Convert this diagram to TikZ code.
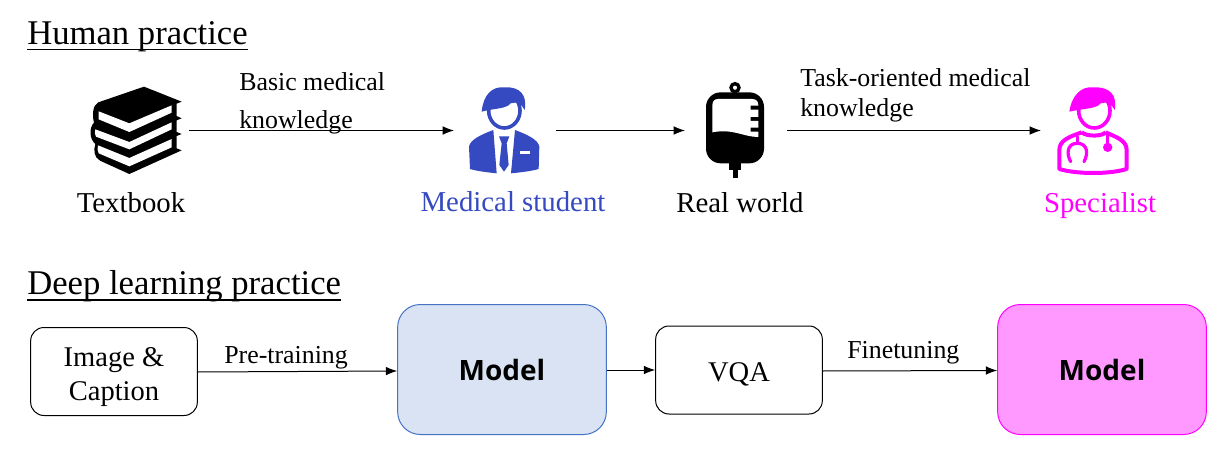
\documentclass[tikz,border=0pt]{standalone}
\usepackage{fontspec}
\setmainfont{Liberation Serif}
\newfontfamily\modelfont{Open Sans}
\usetikzlibrary{arrows.meta}
\definecolor{studentblue}{HTML}{3549C0}
\definecolor{specpink}{HTML}{FF00FF}
\definecolor{modelblue}{HTML}{DAE3F3}
\definecolor{modeledge}{HTML}{4472C4}
\definecolor{modelpink}{HTML}{FF99FF}
\newcommand\headunder[1]{\setbox0\hbox{#1}\rlap{\copy0}\rule[-4.5pt]{\wd0}{0.9pt}}
\tikzset{
  x=0.75pt,y=-0.75pt,
  heading/.style={inner sep=0pt,anchor=base west,font=\fontsize{26}{26}\selectfont},
  caption/.style={inner sep=0pt,anchor=base,font=\fontsize{21.6}{21.6}\selectfont},
  arrowlabel/.style={inner sep=0pt,anchor=base west,font=\fontsize{19.4}{19.4}\selectfont,align=left},
  flow/.style={draw=black,line width=0.75pt,-{Latex[length=8.5pt,width=6.5pt]}},
  boxtext/.style={inner sep=0pt,align=center,font=\fontsize{21.4}{25.5}\selectfont},
  whitebox/.style={draw=black,line width=0.75pt,rounded corners=10pt,fill=white,minimum width=125pt,minimum height=66pt,inner sep=0pt},
  modelbox/.style={line width=0.75pt,rounded corners=17pt,minimum width=156.5pt,minimum height=97.5pt,inner sep=0pt,font=\modelfont\bfseries\fontsize{21}{21}\selectfont}
}
\begin{document}
\begin{tikzpicture}
\useasboundingbox (0,0) rectangle (1224,456);
\fill[white] (0,0) rectangle (1224,456);
% headings
\node[heading] (h1) at (27,44.5) {\headunder{Human practice}};
\node[heading] (h2) at (27,294.5) {\headunder{Deep learning practice}};
% icon anchors
\coordinate (booksR) at (189,130.5);
\coordinate (studL) at (454,130.5);
\coordinate (studR) at (556,130.5);
\coordinate (bagL) at (685,130.5);
\coordinate (bagR) at (787,130.5);
\coordinate (specL) at (1041,130.5);
% books
\begin{scope}[shift={(70,70)},x=0.25pt,y=-0.25pt]
\fill[black] (222,50) -- (335,95) -- (320,101) -- (320,138) -- (335,145) -- (320,151) -- (320,186) -- (335,192) -- (320,198) -- (320,235) -- (335,241) -- (178,312) -- (90,272) .. controls (72,262) and (70,240) .. (76,222) .. controls (60,210) and (55,175) .. (72,158) .. controls (66,135) and (68,105) .. (85,97) -- cycle;
\fill[white] (86,124) -- (178,160) -- (305,106) -- (305,128) -- (178,186) -- (86,148) -- cycle;
\fill[white] (76,178) -- (178,216) -- (305,157) -- (305,178) -- (178,238) -- (78,200) .. controls (74,194) and (74,186) .. (76,178) -- cycle;
\fill[white] (84,226) -- (178,264) -- (305,207) -- (305,232) -- (178,289) -- (86,250) .. controls (82,244) and (82,234) .. (84,226) -- cycle;
\end{scope}
% student
\begin{scope}[shift={(450,75)},x=0.25pt,y=-0.25pt]
\fill[studentblue] (57,215) .. controls (60,195) and (90,180) .. (130,165) -- (140,295) .. controls (110,292) and (80,288) .. (60,282) -- cycle;
\fill[studentblue] (268,215) .. controls (265,195) and (235,180) .. (195,165) -- (183,295) .. controls (215,292) and (245,288) .. (266,282) -- cycle;
\fill[white] (211,229) rectangle (241,236);
\fill[studentblue] (147,184) -- (178,184) -- (170,205) -- (176,270) -- (162,290) -- (148,270) -- (155,205) -- cycle;
\draw[studentblue,line width=2.7pt] (163,107) ellipse (47 and 52);
\fill[studentblue] (95,110) .. controls (100,60) and (125,33) .. (165,37) .. controls (210,35) and (232,60) .. (224,105) .. controls (216,88) and (200,78) .. (182,85) .. controls (170,102) and (130,100) .. (95,110) -- cycle;
\end{scope}
% IV bag
\begin{scope}[shift={(690,75)},x=0.25pt,y=-0.25pt]
\draw[black,line width=2.5pt] (135,38) circle (12);
\fill[black,rounded corners=11pt] (48,52) rectangle (222,265);
\fill[black] (118,260) rectangle (153,285);
\fill[black] (128,280) rectangle (143,308);
\fill[white] (84,72) -- (186,72) .. controls (200,72) and (205,80) .. (205,92) -- (182,92) -- (182,104) -- (205,104) -- (205,126) -- (182,126) -- (182,138) -- (205,138) -- (205,158) -- (182,158) -- (182,170) -- (205,170) -- (205,186) .. controls (160,186) and (130,160) .. (67,172) -- (67,92) .. controls (67,80) and (72,72) .. (84,72) -- cycle;
\end{scope}
% specialist
\begin{scope}[shift={(1040,75)},x=0.25pt,y=-0.25pt]
\draw[specpink,line width=3pt,line join=round] (125,172) .. controls (90,185) and (58,195) .. (58,225) -- (58,282) .. controls (110,298) and (210,298) .. (260,282) -- (260,225) .. controls (260,195) and (225,185) .. (197,172);
\draw[specpink,line width=3pt] (125,172) .. controls (140,185) and (185,185) .. (197,172);
\draw[specpink,line width=2.7pt] (163,107) ellipse (47 and 52);
\fill[specpink] (88,110) .. controls (95,60) and (125,33) .. (160,37) .. controls (210,35) and (232,60) .. (224,105) .. controls (216,88) and (200,78) .. (182,85) .. controls (170,102) and (130,100) .. (88,110) -- cycle;
\draw[specpink,line width=2.4pt,line cap=round] (112,185) -- (112,205);
\draw[specpink,line width=2.4pt,line cap=round] (92,260) .. controls (78,235) and (82,205) .. (112,205) .. controls (142,205) and (146,235) .. (132,260);
\draw[specpink,line width=2pt] (203,180) -- (203,205);
\fill[specpink] (203,217) circle (14);
\end{scope}
% captions
\node[caption] (cap1) at (131,212) {Textbook};
\node[caption,text=studentblue] (cap2) at (513,211) {Medical student};
\node[caption] (cap3) at (740,212) {Real world};
\node[caption,text=specpink] (cap4) at (1100,212) {Specialist};
% labels
\node[arrowlabel] (l1a) at (239,90.5) {Basic medical};
\node[arrowlabel] (l1b) at (239,128.5) {knowledge};
\node[arrowlabel] (l2a) at (800,87) {Task-oriented medical};
\node[arrowlabel] (l2b) at (800,117) {knowledge};
% top arrows
\draw[flow] (booksR) -- (studL);
\draw[flow] (studR) -- (bagL);
\draw[flow] (bagR) -- (specL);
% bottom boxes
\node[whitebox,label={[boxtext,yshift=-3.8pt]center:{Image \&\\Caption}}] (img) at (114,371.5) {};
\node[modelbox,draw=modeledge,fill=modelblue] (m1) at (502,369.5) {Model};
\node[whitebox,label={[boxtext,yshift=-3pt]center:VQA}] (vqa) at (739,370) {};
\node[modelbox,draw=specpink,fill=modelpink] (m2) at (1102,369.5) {Model};
\draw[flow] (img.east |- 0,372) -- (m1.west |- 0,371);
\draw[flow] (m1.east |- 0,370) -- (vqa.west |- 0,370);
\draw[flow] (vqa.east |- 0,371) -- (m2.west |- 0,370.5);
\node[arrowlabel] (l3) at (224,363) {Pre-training};
\node[arrowlabel] (l4) at (847,358) {Finetuning};
\end{tikzpicture}
\end{document}
